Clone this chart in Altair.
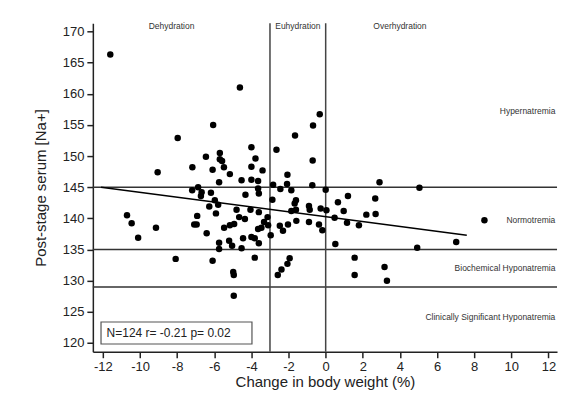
import altair as alt
import pandas as pd

# Scatter data: change in body weight (%) and post-stage serum [Na+]
bw = [-11.6, -10.7, -10.45, -10.1, -9.14, -9.05, -8.08, -7.97,
      -7.18, -7.19, -6.87, -6.68, -6.72, -6.92, -7.08, -6.95, -6.41, -6.45, -6.27, -6.18, -6.09, -6.06, -6.09,
      -5.97, -5.79, -5.91, -5.7, -5.7, -5.58, -5.48, -5.74, -5.16, -5.47, -5.16, -5.74, -5.74, -5.2, -5.04,
      -4.62, -4.53, -4.32, -4.8, -4.66, -4.35, -4.93, -4.45, -4.53, -4.98, -4.95, -4.95, -4.0, -4.0, -4.0, -4.05, -4.0,
      -3.78, -3.4, -3.64, -3.64, -3.6, -3.6, -3.82, -3.6, -3.64, -3.46, -3.32, -3.13, -3.1, -2.96, -3.82,
      -2.65, -1.65, -0.68, -0.32, -0.70, -2.06, -2.83, -2.44, -2.08, -1.85, -0.72, 0.0, -2.87, -1.6, -1.67,
      -1.85, -1.6, -0.9, -0.86, -0.27, 0.04, -1.58, -0.9, -0.36, -0.18, -2.47, -2.3, -2.03, -1.94, -2.06, -2.38, -2.58,
      0.66, 1.2, 2.67, 2.9, 5.05, 0.97, 2.19, 2.69, 0.48, 1.15, 1.79, 8.55, 7.03, 4.93, 0.52, 1.56, 3.17, 1.56, 3.3]
na = [166.3, 140.5, 139.2, 136.9, 138.5, 147.4, 133.5, 152.9,
      148.2, 144.5, 145.0, 144.2, 143.6, 140.4, 139.0, 139.0, 137.6, 149.9, 141.9, 144.1, 147.8, 155.0, 133.2,
      142.9, 142.2, 140.8, 150.5, 149.5, 149.2, 148.2, 145.8, 147.1, 138.5, 138.9, 136.1, 135.1, 136.4, 135.6,
      161.0, 146.1, 143.8, 141.4, 140.2, 139.9, 139.1, 136.8, 135.2, 131.4, 130.9, 127.6, 151.4, 148.3, 146.2, 141.4, 137.0,
      149.6, 147.7, 146.0, 144.8, 144.0, 141.0, 136.8, 136.0, 138.3, 138.5, 139.4, 140.2, 138.9, 137.3, 133.7,
      151.0, 153.3, 154.9, 156.7, 149.3, 147.0, 145.4, 144.7, 145.5, 144.5, 145.3, 144.6, 143.0, 142.9, 142.4,
      141.2, 141.4, 142.0, 141.4, 141.6, 141.3, 139.6, 139.4, 139.0, 138.1, 138.8, 138.0, 139.0, 133.6, 132.7, 131.8, 130.9,
      142.6, 143.6, 143.2, 145.8, 144.9, 141.2, 140.6, 140.7, 140.1, 139.3, 138.9, 139.7, 136.2, 135.3, 135.9, 133.7, 132.2, 130.9, 130.0]

# Fitted regression line end points
fit_x = [-12.1, 7.6]
fit_y = [145.0, 137.3]

# Threshold lines
vlines = [-3, 0]
hlines = [145, 135, 129]

# Zone labels
top_labels = ["Dehydration", "Euhydration", "Overhydration"]
top_x = [-8.3, -1.5, 4.0]
top_y = [170.8, 170.8, 170.8]

right_labels = ["Hypernatremia", "Normotremia", "Biochemical Hyponatremia", "Clinically Significant Hyponatremia"]
right_x = [12.37, 12.37, 12.37, 12.37]
right_y = [157.3, 139.7, 132.0, 124.2]

stat_text = ["N=124 r= -0.21 p= 0.02"]
box_x = [-12.1]
box_x2 = [-3.97]
box_y = [119.84]
box_y2 = [123.37]
stat_x = [-11.8]
stat_y = [121.55]

x_ticks = list(range(-12, 13, 2))
y_ticks = list(range(120, 171, 5))

FONT = "Liberation Sans"

xs = alt.Scale(domain=[-12.54, 12.46], nice=False, zero=False)
ys = alt.Scale(domain=[118.6, 171.3], nice=False, zero=False)
x_axis = alt.Axis(values=x_ticks, title="Change in body weight (%)", grid=False,
                  labelOverlap=False, labelExpr="'' + datum.value", titlePadding=1)
y_axis = alt.Axis(values=y_ticks, title="Post-stage serum [Na+]", grid=False,
                  labelOverlap=False, titlePadding=14)


def X(field):
    return alt.X(field, scale=xs, axis=x_axis)


def Y(field):
    return alt.Y(field, scale=ys, axis=y_axis)


df = pd.DataFrame({"bw": bw, "na": na})

points = alt.Chart(df).mark_circle(size=42, color="black", opacity=1).encode(
    x=X("bw:Q"), y=Y("na:Q"))

vr = alt.Chart(pd.DataFrame({"v": vlines})).mark_rule(color="#444", strokeWidth=1.5).encode(
    x=X("v:Q"))
hr = alt.Chart(pd.DataFrame({"h": hlines})).mark_rule(color="#333", strokeWidth=1.5).encode(
    y=Y("h:Q"))

fit = alt.Chart(pd.DataFrame({"x": fit_x, "y": fit_y})).mark_line(color="black", strokeWidth=1.6).encode(
    x=X("x:Q"), y=Y("y:Q"))

top_t = alt.Chart(pd.DataFrame({"t": top_labels, "x": top_x, "y": top_y})).mark_text(
    font=FONT, fontSize=8.5, color="#333", align="center", baseline="middle").encode(
    x=X("x:Q"), y=Y("y:Q"), text="t:N")

right_t = alt.Chart(pd.DataFrame({"t": right_labels, "x": right_x, "y": right_y})).mark_text(
    font=FONT, fontSize=8.5, color="#333", align="right", baseline="middle").encode(
    x=X("x:Q"), y=Y("y:Q"), text="t:N")

box = alt.Chart(pd.DataFrame({"x": box_x, "x2": box_x2, "y": box_y, "y2": box_y2})).mark_rect(
    fill="white", stroke="#555", strokeWidth=1.2).encode(
    x=X("x:Q"), x2="x2:Q", y=Y("y:Q"), y2="y2:Q")

stat = alt.Chart(pd.DataFrame({"t": stat_text, "x": stat_x, "y": stat_y})).mark_text(
    font=FONT, fontSize=12, color="#222", align="left", baseline="middle").encode(
    x=X("x:Q"), y=Y("y:Q"), text="t:N")

chart = alt.layer(hr, vr, fit, points, top_t, right_t, box, stat).properties(
    width=465, height=329,
    padding={"left": 85, "top": 15, "right": 10, "bottom": 40},
    autosize=alt.AutoSizeParams(type="none"),
    background="white",
).configure_view(stroke=None).configure_axis(
    domainColor="#222", domainWidth=1.5, tickColor="#222", tickWidth=1.5, tickSize=6,
    labelFont=FONT, labelFontSize=13, labelColor="#222", labelPadding=3,
    titleFont=FONT, titleFontSize=15, titleFontWeight="normal", titleColor="#222",
)

chart.save("out.html", embed_options={"renderer": "svg", "actions": False})
